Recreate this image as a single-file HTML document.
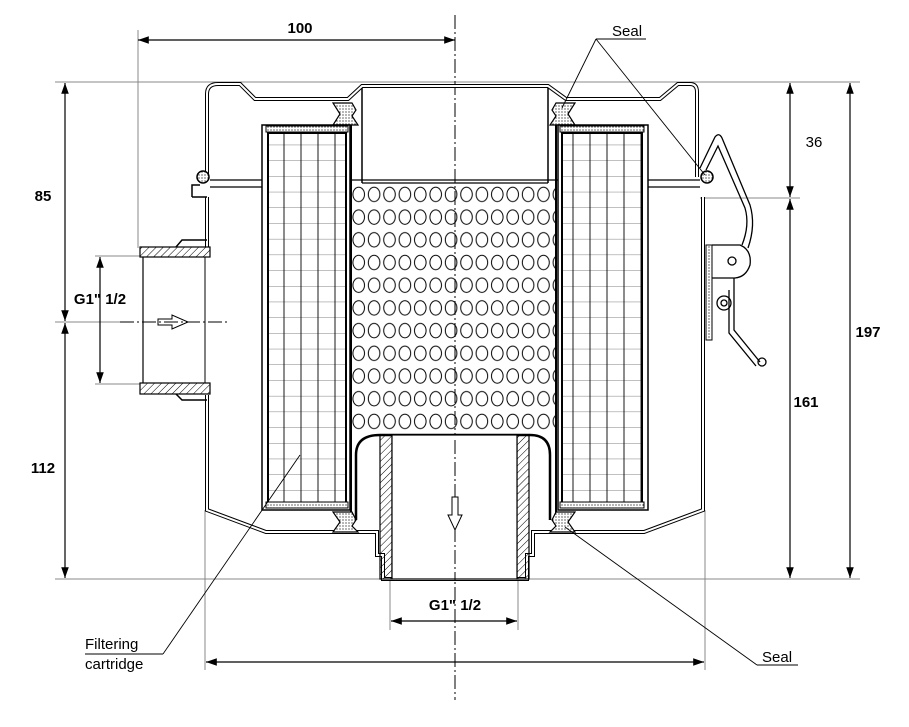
<!DOCTYPE html>
<html><head><meta charset="utf-8"><style>
html,body{margin:0;padding:0;background:#fff;}
svg{display:block;font-family:"Liberation Sans",sans-serif;}
</style></head><body>
<svg width="909" height="727" viewBox="0 0 909 727" xmlns="http://www.w3.org/2000/svg">
<defs>
<pattern id="hatch" width="5" height="5" patternUnits="userSpaceOnUse" patternTransform="rotate(45)">
<line x1="0" y1="0" x2="0" y2="5" stroke="#000" stroke-width="1"/></pattern>
<pattern id="dots" width="3" height="3" patternUnits="userSpaceOnUse">
<rect width="3" height="3" fill="#fff"/><circle cx="1" cy="1" r="0.6" fill="#000"/></pattern>
<pattern id="holes" x="351" y="183" width="15.4" height="22.7" patternUnits="userSpaceOnUse">
<ellipse cx="7.7" cy="11.4" rx="5.8" ry="7.2" fill="none" stroke="#000" stroke-width="1"/></pattern>
<pattern id="grid" x="262" y="129" width="17" height="15.7" patternUnits="userSpaceOnUse">
<line x1="5" y1="0" x2="5" y2="15.7" stroke="#000" stroke-width="0.9"/>
<line x1="0" y1="0" x2="17" y2="0" stroke="#000" stroke-width="0.6"/></pattern>
<marker id="ar" viewBox="0 0 10 10" refX="10" refY="5" markerWidth="9" markerHeight="9" orient="auto-start-reverse"><path d="M0,1.5 L10,5 L0,8.5z" fill="#000"/></marker>
</defs>
<g stroke="#000" fill="none">
<g stroke="#888" stroke-width="1">
<line x1="55" y1="82" x2="860" y2="82"/>
<line x1="55" y1="579" x2="860" y2="579"/>
<line x1="138" y1="30" x2="138" y2="248"/>
<line x1="205" y1="510" x2="205" y2="670"/>
<line x1="705" y1="510" x2="705" y2="670"/>
<line x1="95" y1="256" x2="140" y2="256"/>
<line x1="95" y1="384" x2="140" y2="384"/>
<line x1="55" y1="322" x2="120" y2="322"/>
<line x1="700" y1="198" x2="800" y2="198"/>
<line x1="390" y1="580" x2="390" y2="630"/>
<line x1="518" y1="580" x2="518" y2="630"/>
</g>
<g stroke-width="1.2">
<line x1="138" y1="40" x2="455" y2="40" marker-start="url(#ar)" marker-end="url(#ar)"/>
<line x1="65" y1="83" x2="65" y2="321" marker-start="url(#ar)" marker-end="url(#ar)"/>
<line x1="65" y1="323" x2="65" y2="578" marker-start="url(#ar)" marker-end="url(#ar)"/>
<line x1="100" y1="257" x2="100" y2="383" marker-start="url(#ar)" marker-end="url(#ar)"/>
<line x1="790" y1="83" x2="790" y2="197" marker-start="url(#ar)" marker-end="url(#ar)"/>
<line x1="790" y1="199" x2="790" y2="578" marker-start="url(#ar)" marker-end="url(#ar)"/>
<line x1="850" y1="83" x2="850" y2="578" marker-start="url(#ar)" marker-end="url(#ar)"/>
<line x1="206" y1="662" x2="704" y2="662" marker-start="url(#ar)" marker-end="url(#ar)"/>
<line x1="391" y1="621" x2="517" y2="621" marker-start="url(#ar)" marker-end="url(#ar)"/>
</g>
<line x1="455" y1="15" x2="455" y2="700" stroke-width="1" stroke-dasharray="14,3,2,3"/>
<line x1="120" y1="322" x2="230" y2="322" stroke-width="1" stroke-dasharray="14,3,2,3"/>
<path d="M207,178 L207,94 Q207,84 218,84 L240,84 L255,99 L348,99 L362,86 L548,86 L566,99 L660,99 L678,84 L690,84 Q697,84 697,92 L697,177" stroke-width="4"/>
<path d="M207,178 L207,94 Q207,84 218,84 L240,84 L255,99 L348,99 L362,86 L548,86 L566,99 L660,99 L678,84 L690,84 Q697,84 697,92 L697,177" stroke="#fff" stroke-width="2"/>
<line x1="210" y1="180" x2="700" y2="180" stroke-width="1.2"/>
<line x1="210" y1="187" x2="262" y2="187" stroke-width="1.2"/>
<line x1="648" y1="187" x2="700" y2="187" stroke-width="1.2"/>
<circle cx="203" cy="177" r="6" fill="url(#dots)" stroke-width="1.5"/>
<circle cx="707" cy="177" r="6" fill="url(#dots)" stroke-width="1.5"/>
<path d="M207,197 L207,247 M207,395 L207,510 L266,532 L377,532 L377,555 L383,555 L383,579 L527,579 L527,555 L533,555 L533,532 L644,532 L703,510 L703,197" stroke-width="4"/>
<path d="M207,197 L207,247 M207,395 L207,510 L266,532 L377,532 L377,555 L383,555 L383,579 L527,579 L527,555 L533,555 L533,532 L644,532 L703,510 L703,197" stroke="#fff" stroke-width="2"/>
<path d="M192,197 L207,197 M192,197 L192,185 L200,185" stroke-width="1.5"/>
<rect x="140" y="247" width="70" height="10" fill="url(#hatch)" stroke-width="1.2"/>
<rect x="140" y="383" width="70" height="11" fill="url(#hatch)" stroke-width="1.2"/>
<line x1="143" y1="257" x2="143" y2="383" stroke-width="1.2"/>
<line x1="205" y1="257" x2="205" y2="383" stroke-width="1"/>
<path d="M176,247 L182,240 L207,240 M176,394 L182,400 L207,400" stroke-width="1.5"/>
<path d="M158,319 L172,319 L172,315 L188,322 L172,329 L172,325 L158,325z" stroke-width="1"/>
<path d="M362,88 L362,183 M548,88 L548,183" stroke-width="1.5"/>
<line x1="362" y1="183" x2="548" y2="183" stroke-width="1.2"/>
<rect x="351" y="183" width="205" height="250" fill="url(#holes)" stroke="none"/>
<line x1="351" y1="125" x2="351" y2="520" stroke-width="2"/>
<line x1="556" y1="125" x2="556" y2="520" stroke-width="2"/>
<path d="M333,103 L352,103 L356,110 L352,116 L358,125 L333,125 L340,114z" fill="url(#dots)" stroke-width="1.2"/>
<path d="M575,103 L556,103 L552,110 L556,116 L550,125 L575,125 L568,114z" fill="url(#dots)" stroke-width="1.2"/>
<path d="M333,512 L352,512 L356,520 L352,526 L358,532 L333,532 L340,522z" fill="url(#dots)" stroke-width="1.2"/>
<path d="M575,512 L556,512 L552,520 L556,526 L550,532 L575,532 L568,522z" fill="url(#dots)" stroke-width="1.2"/>
<g stroke-width="1.5">
<rect x="262" y="125" width="88" height="385" fill="#fff"/>
<rect x="268" y="133" width="78" height="370" fill="url(#grid)" stroke-width="2"/>
<rect x="266" y="126" width="82" height="6" fill="url(#dots)" stroke-width="1"/>
<rect x="266" y="502" width="82" height="6" fill="url(#dots)" stroke-width="1"/>
<rect x="558" y="125" width="90" height="385" fill="#fff"/>
<rect x="562" y="133" width="80" height="370" fill="url(#grid)" stroke-width="2"/>
<rect x="560" y="126" width="84" height="6" fill="url(#dots)" stroke-width="1"/>
<rect x="560" y="502" width="84" height="6" fill="url(#dots)" stroke-width="1"/>
</g>
<path d="M356,520 L356,455 Q356,435 380,435 L530,435 Q550,435 550,455 L550,520" stroke-width="2.5" fill="none"/>
<rect x="380" y="435" width="12" height="144" fill="url(#hatch)" stroke-width="1.2"/>
<rect x="517" y="435" width="12" height="144" fill="url(#hatch)" stroke-width="1.2"/>
<rect x="392" y="435" width="125" height="144" fill="#fff" stroke-width="1.2"/>
<line x1="455" y1="440" x2="455" y2="580" stroke-width="1" stroke-dasharray="14,3,2,3"/>
<path d="M452,497 L452,515 L448,515 L455,530 L462,515 L458,515 L458,497z" stroke-width="1" fill="#fff"/>
<g stroke-width="1.3">
<path d="M700,168 L715,137 Q719,132 722,138 L750,205 Q756,225 748,248"/>
<path d="M706,170 L718,146 L745,208 Q750,225 742,245"/>
<path d="M712,245 L740,245 Q752,250 750,265 Q746,277 735,278 L712,278"/>
<circle cx="732" cy="261" r="4"/>
<circle cx="724" cy="303" r="7"/><circle cx="724" cy="303" r="3"/>
<path d="M734,278 L734,330 L760,362 M729,290 L729,333 L756,366"/>
<circle cx="762" cy="362" r="4"/>
<rect x="706" y="245" width="6" height="95" fill="url(#dots)" stroke-width="1"/>
</g>
<g stroke-width="0.9">
<line x1="596" y1="39" x2="646" y2="39"/>
<line x1="596" y1="39" x2="562" y2="108"/>
<line x1="596" y1="39" x2="705" y2="175"/>
<line x1="85" y1="654" x2="163" y2="654"/>
<line x1="163" y1="654" x2="300" y2="455"/>
<line x1="757" y1="665" x2="798" y2="665"/>
<line x1="757" y1="665" x2="565" y2="527"/>
</g>
</g>
<g fill="#000" font-size="15" font-weight="bold">
<text x="300" y="33" text-anchor="middle">100</text>
<text x="43" y="201" text-anchor="middle">85</text>
<text x="43" y="473" text-anchor="middle">112</text>
<text x="100" y="304" text-anchor="middle">G1" 1/2</text>
<text x="455" y="610" text-anchor="middle">G1" 1/2</text>
<text x="806" y="407" text-anchor="middle">161</text>
<text x="868" y="337" text-anchor="middle">197</text>
</g>
<g fill="#000" font-size="15">
<text x="814" y="147" text-anchor="middle">36</text>
<text x="612" y="36">Seal</text>
<text x="762" y="662">Seal</text>
<text x="85" y="649">Filtering</text>
<text x="85" y="669">cartridge</text>
</g>
</svg>
</body></html>
